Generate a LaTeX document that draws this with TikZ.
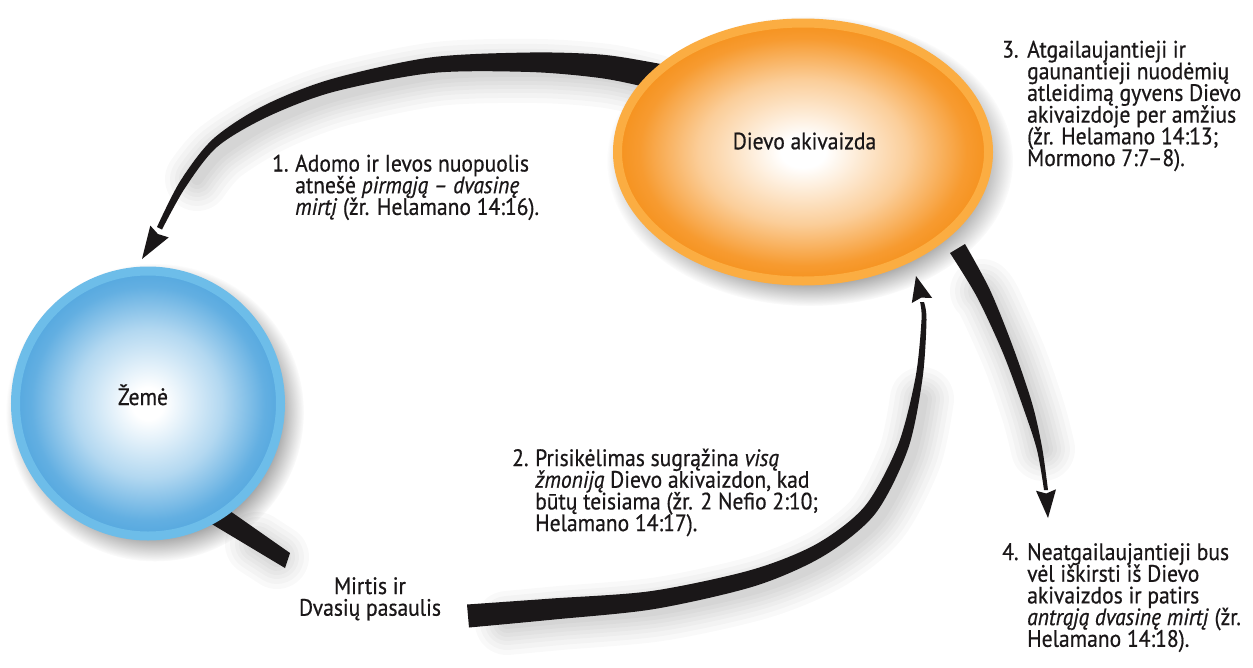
\documentclass[tikz,border=0pt]{standalone}
\usepackage{fontspec}
\setmainfont{PT Sans}[FakeStretch=0.91,FakeBold=0.6]
\usetikzlibrary{shapes.geometric,fadings}
\definecolor{orRim}{HTML}{FBAD42}
\definecolor{orIn}{HTML}{F6921E}
\definecolor{blRim}{HTML}{6DBDE9}
\definecolor{blIn}{HTML}{55A8DF}
\definecolor{ink}{HTML}{1A1718}
\pgfdeclareradialshading{orangeball}{\pgfpointorigin}{color(0bp)=(white); color(3bp)=(white); color(14bp)=(orIn!45!white); color(22bp)=(orIn!92!white); color(25bp)=(orIn); color(50bp)=(orIn)}
\pgfdeclareradialshading{blueball}{\pgfpointorigin}{color(0bp)=(white); color(3bp)=(white); color(14bp)=(blIn!45!white); color(22bp)=(blIn!92!white); color(25bp)=(blIn); color(50bp)=(blIn)}
\newcommand\softshadow[1]{%
  \foreach \w in {64,54,44,36,28,20,12}{%
    \draw[line width=\w pt, opacity=0.022, black, line cap=round, shift={(7,9)}] plot[smooth] coordinates {#1};}}
\lineskiplimit=-100pt
\newcommand\txtfont{\fontsize{23.7}{21.7}\selectfont}
\begin{document}
\begin{tikzpicture}[x=1pt,y=-1pt,
  txt/.style={inner sep=0pt, anchor=base west, text=ink, font=\txtfont},
  lbl/.style={inner sep=0pt, anchor=base, text=ink, font=\txtfont},
  swoosh/.style={fill=ink},
  ballshadow/.style={fill=black, opacity=0.42, path fading=circle with fuzzy edge 20 percent},
]
\useasboundingbox[fill=white] (0,0) rectangle (1253,667);

\coordinate (gc) at (803,152);
\coordinate (ec) at (148,403.5);

% shadows
\fill[ballshadow] ([shift={(7,9)}]gc) ellipse [x radius=203pt, y radius=145pt];
\fill[ballshadow] ([shift={(7,9)}]ec) circle [radius=149pt];
\softshadow{(650,78) (600,67) (530,62) (430,65) (330,86) (263,112) (213,143) (190,170)}
\softshadow{(500,614) (553,609) (653,600) (753,578) (820,550) (870,510) (903,447) (915,390)}
\softshadow{(975,282) (983,294) (1008,350) (1027,405) (1036,440)}
\softshadow{(250,535) (270,548)}

% arrow 1: God -> Earth
\coordinate (a1tip) at (142,259);
\fill[swoosh] plot[smooth] coordinates {(700,72) (650,62) (600,54.5) (530,52.5) (430,57.5) (330,79.5) (263,106) (213,139) (180,181.5) (157,227)}
  -- plot[smooth] coordinates {(162,229.5) (185,188) (217,147) (267,117) (333,92) (432,73) (530,72) (600,78) (650,88) (700,100)} -- cycle;
\fill[swoosh] (a1tip) -- (150.3,225.6) -- (157.9,234) -- (168.7,237.4) -- cycle;

% arrow 2: spirit world -> God
\coordinate (a2tip) at (916,276);
\fill[swoosh] plot[smooth] coordinates {(467,604.5) (552,598.5) (651.6,591) (751,570) (816.5,544) (865,506) (898,445) (915.5,377.5) (921.5,320) (920,302)}
  -- plot[smooth] coordinates {(924,302) (926.5,320) (922.5,378.5) (908,449) (875,514) (823.5,556) (755,586) (654.4,609) (554,619.5) (469,627.5)} -- cycle;
\fill[swoosh] (a2tip) -- (911.8,303) -- (921.3,297.6) -- (932.2,298) -- cycle;

% arrow 3: Earth -> death (stub)
\fill[swoosh] (190,483) -- (290,553) -- (285,568) -- (190,511) -- cycle;

% arrow 4: God -> outside
\coordinate (a4tip) at (1048,518);
\fill[swoosh] plot[smooth] coordinates {(950,253) (977,297) (1003,353) (1023,407) (1037,450) (1044,490)}
  -- plot[smooth] coordinates {(1048,490) (1042,447) (1032,403) (1013,347) (990,290) (965,244)} -- cycle;
\fill[swoosh] (a4tip) -- (1036,490.7) -- (1046.2,493.5) -- (1056,489.3) -- cycle;

% balls
\node[ellipse, minimum width=371pt, minimum height=258pt, shading=orangeball, draw=orRim, line width=9pt] (god) at (gc) {};
\node[circle, minimum size=265pt, shading=blueball, draw=blRim, line width=9pt] (earth) at (ec) {};

% labels
\node[lbl] (godlbl) at (804.5,149.3) {Dievo akivaizda};
\node[lbl] (earthlbl) at (143,405) {Žemė};
\node[lbl] (deathlbl) at (370,594) {\vtop{\hbox to 200pt{\hfil Mirtis ir\hfil}\hbox to 200pt{\hfil Dvasių pasaulis\hfil}}};

\node[txt] (t1) at (272,171.5) {\vtop{%
  \hbox{\makebox[23pt][l]{1.}Adomo ir Ievos nuopuolis}%
  \hbox{\kern23pt atnešė \textit{pirmąją – dvasinę}}%
  \hbox{\kern23pt\textit{mirtį} (žr. Helamano 14:16).}}};

\node[txt] (t2) at (512,466) {\vtop{%
  \hbox{\makebox[23pt][l]{2.}Prisikėlimas sugrąžina \textit{visą}}%
  \hbox{\kern23pt\textit{žmoniją} Dievo akivaizdon, kad}%
  \hbox{\kern23pt būtų teisiama (žr. 2 Nefio 2:10;}%
  \hbox{\kern23pt Helamano 14:17).}}};

\node[txt] (t3) at (1002,57.5) {\vtop{%
  \hbox{\makebox[25pt][l]{3.}Atgailaujantieji ir}%
  \hbox{\kern25pt gaunantieji nuodėmių}%
  \hbox{\kern25pt atleidimą gyvens Dievo}%
  \hbox{\kern25pt akivaizdoje per amžius}%
  \hbox{\kern25pt(žr. Helamano 14:13;}%
  \hbox{\kern25pt Mormono 7:7–8).}}};

\node[txt] (t4) at (1002,560) {\vtop{%
  \hbox{\makebox[25pt][l]{4.}Neatgailaujantieji bus}%
  \hbox{\kern25pt vėl iškirsti iš Dievo}%
  \hbox{\kern25pt akivaizdos ir patirs}%
  \hbox{\kern25pt\textit{antrąją dvasinę mirtį} (žr.}%
  \hbox{\kern25pt Helamano 14:18).}}};
\end{tikzpicture}
\end{document}
